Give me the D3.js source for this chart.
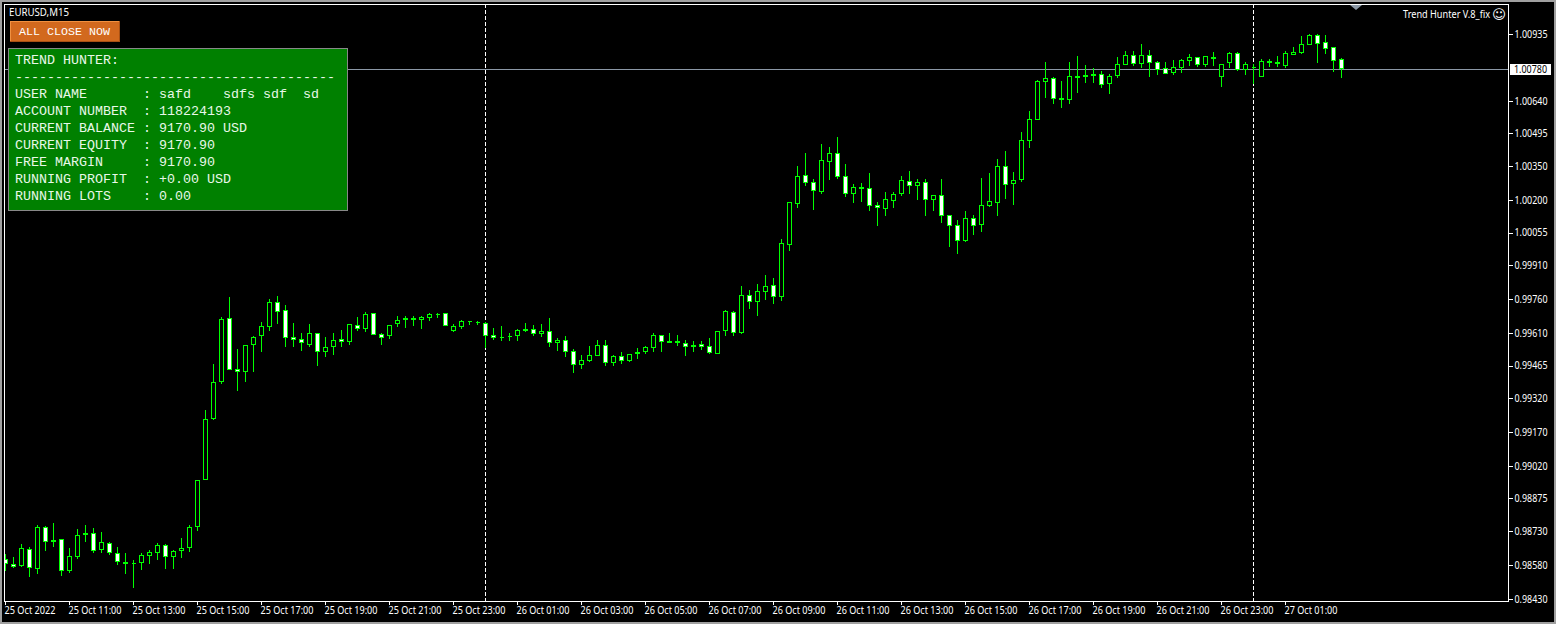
<!DOCTYPE html>
<html><head><meta charset="utf-8">
<style>html,body{margin:0;padding:0;background:#a0a0a0;overflow:hidden}svg{display:block}text{white-space:pre}</style>
<script src="https://cdn.jsdelivr.net/npm/d3@7"></script>
</head><body><svg id="c" width="1556" height="624"></svg>
<script>
const opens=[0.98605,0.98582,0.98577,0.98652,0.98563,0.98747,0.98689,0.98693,0.98551,0.98614,
0.98720,0.98720,0.98645,0.98676,0.98631,0.98591,0.98588,0.98587,0.98621,0.98634,
0.98667,0.98614,0.98640,0.98653,0.98747,0.98959,0.99228,0.99394,0.99675,0.99449,
0.99438,0.99554,0.99594,0.99634,0.99746,0.99710,0.99591,0.99582,0.99558,0.99608,
0.99527,0.99549,0.99582,0.99571,0.99644,0.99625,0.99697,0.99604,0.99594,0.99647,
0.99665,0.99675,0.99665,0.99678,0.99694,0.99697,0.99620,0.99634,0.99662,0.99657,
0.99653,0.99599,0.99591,0.99597,0.99594,0.99616,0.99626,0.99607,0.99617,0.99567,
0.99577,0.99528,0.99469,0.99486,0.99505,0.99555,0.99474,0.99506,0.99487,0.99514,
0.99523,0.99543,0.99599,0.99574,0.99573,0.99564,0.99545,0.99560,0.99551,0.99518,
0.99620,0.99702,0.99611,0.99777,0.99749,0.99793,0.99821,0.99767,1.00001,1.00183,
1.00309,1.00278,1.00236,1.00369,1.00406,1.00304,1.00228,1.00257,1.00251,1.00176,
1.00161,1.00196,1.00228,1.00282,1.00263,1.00278,1.00201,1.00220,1.00131,1.00087,
1.00019,1.00118,1.00090,1.00174,1.00188,1.00349,1.00272,1.00290,1.00463,1.00554,
1.00725,1.00739,1.00651,1.00645,1.00748,1.00753,1.00757,1.00757,1.00714,1.00751,
1.00800,1.00841,1.00804,1.00841,1.00810,1.00784,1.00764,1.00787,1.00818,1.00833,
1.00800,1.00833,1.00747,1.00809,1.00850,1.00775,1.00788,1.00747,1.00815,1.00810,
1.00796,1.00844,1.00853,1.00889,1.00930,1.00899,1.00877,1.00824];
const highs=[0.98628,0.98614,0.98673,0.98658,0.98757,0.98753,0.98764,0.98693,0.98653,0.98738,
0.98757,0.98742,0.98726,0.98682,0.98658,0.98631,0.98602,0.98631,0.98646,0.98676,
0.98673,0.98646,0.98698,0.98757,0.98955,0.99268,0.99472,0.99681,0.99768,0.99539,
0.99555,0.99597,0.99659,0.99761,0.99774,0.99734,0.99654,0.99610,0.99650,0.99608,
0.99592,0.99610,0.99623,0.99648,0.99681,0.99703,0.99697,0.99608,0.99644,0.99685,
0.99685,0.99685,0.99685,0.99699,0.99699,0.99697,0.99650,0.99668,0.99662,0.99663,
0.99659,0.99632,0.99641,0.99610,0.99628,0.99654,0.99645,0.99650,0.99676,0.99588,
0.99597,0.99539,0.99512,0.99552,0.99579,0.99579,0.99512,0.99526,0.99515,0.99543,
0.99552,0.99610,0.99599,0.99610,0.99601,0.99579,0.99574,0.99574,0.99588,0.99617,
0.99712,0.99707,0.99818,0.99801,0.99827,0.99867,0.99854,1.00026,1.00189,1.00350,
1.00408,1.00291,1.00448,1.00433,1.00479,1.00359,1.00270,1.00275,1.00319,1.00191,
1.00235,1.00235,1.00306,1.00328,1.00293,1.00293,1.00220,1.00293,1.00131,1.00111,
1.00151,1.00133,1.00297,1.00319,1.00381,1.00417,1.00324,1.00501,1.00594,1.00732,
1.00812,1.00745,1.00728,1.00812,1.00838,1.00799,1.00785,1.00772,1.00759,1.00834,
1.00861,1.00861,1.00892,1.00865,1.00816,1.00812,1.00821,1.00825,1.00847,1.00833,
1.00837,1.00856,1.00801,1.00856,1.00856,1.00812,1.00801,1.00825,1.00824,1.00838,
1.00861,1.00878,1.00927,1.00936,1.00936,1.00932,1.00877,1.00830];
const lows=[0.98554,0.98568,0.98572,0.98528,0.98540,0.98643,0.98661,0.98532,0.98545,0.98605,
0.98683,0.98634,0.98634,0.98625,0.98581,0.98541,0.98479,0.98557,0.98584,0.98602,
0.98563,0.98563,0.98611,0.98639,0.98730,0.98959,0.99224,0.99384,0.99443,0.99352,
0.99394,0.99434,0.99526,0.99619,0.99650,0.99548,0.99548,0.99530,0.99548,0.99463,
0.99503,0.99512,0.99548,0.99557,0.99619,0.99614,0.99602,0.99557,0.99583,0.99636,
0.99632,0.99641,0.99628,0.99663,0.99676,0.99642,0.99614,0.99628,0.99645,0.99645,
0.99542,0.99579,0.99574,0.99574,0.99574,0.99614,0.99597,0.99592,0.99548,0.99530,
0.99503,0.99432,0.99450,0.99481,0.99505,0.99463,0.99463,0.99472,0.99481,0.99494,
0.99517,0.99526,0.99526,0.99567,0.99552,0.99508,0.99526,0.99534,0.99517,0.99518,
0.99597,0.99597,0.99605,0.99716,0.99685,0.99756,0.99739,0.99752,0.99973,1.00164,
1.00262,1.00155,1.00226,1.00288,1.00294,1.00213,1.00186,1.00191,1.00151,1.00084,
1.00128,1.00164,1.00217,1.00226,1.00199,1.00128,1.00151,1.00097,0.99991,0.99960,
1.00013,1.00044,1.00057,1.00168,1.00128,1.00204,1.00177,1.00279,1.00430,1.00554,
1.00652,1.00625,1.00608,1.00625,1.00674,1.00719,1.00719,1.00696,1.00670,1.00741,
1.00800,1.00794,1.00785,1.00745,1.00754,1.00759,1.00754,1.00763,1.00794,1.00790,
1.00790,1.00794,1.00701,1.00785,1.00772,1.00754,1.00714,1.00747,1.00790,1.00790,
1.00785,1.00844,1.00847,1.00889,1.00807,1.00847,1.00767,1.00741];
const closes=[0.98582,0.98572,0.98653,0.98565,0.98747,0.98680,0.98683,0.98551,0.98618,0.98711,
0.98714,0.98640,0.98680,0.98631,0.98591,0.98585,0.98588,0.98622,0.98636,0.98667,
0.98614,0.98640,0.98653,0.98747,0.98955,0.99227,0.99391,0.99670,0.99447,0.99438,
0.99555,0.99591,0.99639,0.99746,0.99704,0.99585,0.99580,0.99563,0.99608,0.99527,
0.99546,0.99577,0.99571,0.99648,0.99625,0.99693,0.99602,0.99589,0.99644,0.99666,
0.99675,0.99665,0.99679,0.99693,0.99694,0.99642,0.99639,0.99662,0.99656,0.99653,
0.99598,0.99589,0.99585,0.99591,0.99623,0.99626,0.99607,0.99617,0.99567,0.99577,
0.99523,0.99469,0.99489,0.99511,0.99555,0.99474,0.99506,0.99487,0.99515,0.99524,
0.99546,0.99599,0.99571,0.99567,0.99563,0.99545,0.99555,0.99549,0.99520,0.99617,
0.99706,0.99611,0.99777,0.99749,0.99795,0.99817,0.99767,1.00007,1.00189,1.00304,
1.00276,1.00241,1.00375,1.00406,1.00303,1.00228,1.00256,1.00250,1.00174,1.00165,
1.00202,1.00225,1.00287,1.00263,1.00278,1.00201,1.00220,1.00130,1.00086,1.00019,
1.00118,1.00086,1.00176,1.00193,1.00349,1.00267,1.00287,1.00464,1.00557,1.00726,
1.00739,1.00649,1.00645,1.00748,1.00741,1.00745,1.00750,1.00711,1.00748,1.00801,
1.00841,1.00804,1.00841,1.00809,1.00778,1.00760,1.00788,1.00819,1.00833,1.00800,
1.00837,1.00825,1.00801,1.00850,1.00775,1.00801,1.00788,1.00815,1.00809,1.00801,
1.00850,1.00855,1.00890,1.00930,1.00893,1.00871,1.00818,1.00780];

const priceTicks=[1.00935,1.00640,1.00495,1.00350,1.00200,1.00055,0.99910,0.99760,0.99610,0.99465,0.99320,0.99170,0.99020,0.98875,0.98730,0.98580,0.98430];
const currentPrice=1.00780;
const timeTickIndex=[0,8,16,24,32,40,48,56,64,72,80,88,96,104,112,120,128,136,144,152,160];
const timeTickLabels=["25 Oct 2022","25 Oct 11:00","25 Oct 13:00","25 Oct 15:00","25 Oct 17:00","25 Oct 19:00","25 Oct 21:00","25 Oct 23:00","26 Oct 01:00","26 Oct 03:00","26 Oct 05:00","26 Oct 07:00","26 Oct 09:00","26 Oct 11:00","26 Oct 13:00","26 Oct 15:00","26 Oct 17:00","26 Oct 19:00","26 Oct 21:00","26 Oct 23:00","27 Oct 01:00"];
const daySeparators=[60,156];
const panelLines=["TREND HUNTER:","----------------------------------------","USER NAME       : safd    sdfs sdf  sd","ACCOUNT NUMBER  : 118224193","CURRENT BALANCE : 9170.90 USD","CURRENT EQUITY  : 9170.90","FREE MARGIN     : 9170.90","RUNNING PROFIT  : +0.00 USD","RUNNING LOTS    : 0.00"];

const svg=d3.select("#c");
const UI="'Noto Sans','DejaVu Sans',sans-serif";
const MONO="'Liberation Mono',monospace";
const L=4,T=4,R=1508,B=601;
const x=d3.scaleLinear().domain([0,167]).range([5,1341]);
const y=d3.scaleLinear().domain([0.98430,1.00935]).range([598.7,34.3]);
const UP="#00ff00";

svg.append("rect").attr("x",2).attr("y",2).attr("width",1552).attr("height",620).attr("fill","#000");

const plot=svg.append("g").attr("shape-rendering","crispEdges");
svg.append("clipPath").attr("id","pl").append("rect").attr("x",L+1).attr("y",T+1).attr("width",R-L-1).attr("height",B-T-1);
plot.attr("clip-path","url(#pl)");

plot.append("line").attr("x1",L).attr("x2",R).attr("y1",Math.floor(y(currentPrice))+.5).attr("y2",Math.floor(y(currentPrice))+.5).attr("stroke","#8b98a6");
plot.selectAll(".sep").data(daySeparators).join("line").attr("class","sep")
  .attr("x1",d=>x(d)+.5).attr("x2",d=>x(d)+.5).attr("y1",T).attr("y2",B)
  .attr("stroke","#fff").attr("stroke-dasharray","4,2");

const candles=opens.map((o,i)=>({i,o,h:highs[i],l:lows[i],c:closes[i]}));
const g=plot.selectAll(".cd").data(candles).join("g").attr("class","cd");
g.append("line").attr("x1",d=>x(d.i)+.5).attr("x2",d=>x(d.i)+.5)
  .attr("y1",d=>Math.round(y(d.h))).attr("y2",d=>Math.round(y(d.l))).attr("stroke",UP);
g.append("path")
  .attr("d",d=>{
    const t=Math.round(y(Math.max(d.o,d.c))),b=Math.round(y(Math.min(d.o,d.c)));
    const h=Math.max(0,b-t-1),l=x(d.i)-1.5,r=x(d.i)+2.5;
    return `M${l},${t+.5}H${r}V${t+.5+h}H${l}Z`;
  })
  .attr("fill",d=>d.c>=d.o?"#000":"#fff").attr("stroke",UP).attr("stroke-linecap","square");

// frame
svg.append("path").attr("d",`M${L+.5},${B+.5}V${T+.5}H${R+.5}V${B+.5}H${L+.5}`).attr("fill","none").attr("stroke","#fff").attr("shape-rendering","crispEdges");

// axes
const ax=svg.append("g").attr("transform",`translate(${R+1},0)`)
  .call(d3.axisRight(y).tickValues(priceTicks).tickFormat(d3.format(".5f")).tickSize(4).tickPadding(2));
ax.select(".domain").remove();
ax.selectAll("line").attr("stroke","#fff").attr("shape-rendering","crispEdges");
ax.selectAll("text").attr("fill","#fff").attr("font-family",UI).attr("font-size",10).attr("x",5.5).attr("dy","0.33em")
  .attr("textLength",33).attr("lengthAdjust","spacingAndGlyphs");

const bx=svg.append("g").attr("transform",`translate(0,${B+1})`)
  .call(d3.axisBottom(x).tickValues(timeTickIndex).tickFormat((d,i)=>timeTickLabels[i]).tickSize(3));
bx.select(".domain").remove();
bx.selectAll("line").attr("stroke","#fff").attr("shape-rendering","crispEdges");
bx.selectAll("text").attr("fill","#fff").attr("font-family",UI).attr("font-size",10).attr("text-anchor","start").attr("x",-1).attr("y",5).attr("dy","0.71em")
  .attr("textLength",(d,i)=>i===0?51:53).attr("lengthAdjust","spacingAndGlyphs");

// current price tag
const py=y(currentPrice);
svg.append("rect").attr("x",1510).attr("y",Math.round(py)-5).attr("width",41).attr("height",11).attr("fill","#fff");
svg.append("text").attr("x",1514).attr("y",py).attr("dy","0.36em").attr("fill","#000").attr("font-family",UI).attr("font-size",10)
  .attr("textLength",33).attr("lengthAdjust","spacingAndGlyphs").text(d3.format(".5f")(currentPrice));

// title + labels
svg.append("text").attr("x",9).attr("y",16).attr("fill","#fff").attr("font-family",UI).attr("font-size",10).attr("textLength",60).attr("lengthAdjust","spacingAndGlyphs").text("EURUSD,M15");
svg.append("text").attr("x",1403).attr("y",18).attr("fill","#fff").attr("font-family",UI).attr("font-size",10).attr("textLength",87).attr("lengthAdjust","spacingAndGlyphs").text("Trend Hunter V.8_fix");
svg.append("text").attr("x",1492).attr("y",19).attr("fill","#fff").attr("font-family","'DejaVu Sans'").attr("font-size",13.5).text("☺");
svg.append("path").attr("d","M1350,5H1362L1356,10Z").attr("fill","#8b98a6");

// button
svg.append("rect").attr("x",10).attr("y",21).attr("width",110).attr("height",21).attr("fill","#d2691e");
svg.append("path").attr("d","M10.5,42V21.5H120").attr("fill","none").attr("stroke","#f09040").attr("shape-rendering","crispEdges");
svg.append("path").attr("d","M10,41.5H119.5V21").attr("fill","none").attr("stroke","#a85014").attr("shape-rendering","crispEdges");
svg.append("text").attr("x",19).attr("y",35).attr("fill","#fff").attr("font-family",MONO).attr("font-size",11.67).text("ALL CLOSE NOW");

// panel
svg.append("rect").attr("x",8.5).attr("y",48.5).attr("width",339).attr("height",162).attr("fill","#008000").attr("stroke","#888").attr("shape-rendering","crispEdges");
svg.selectAll(".pt").data(panelLines).join("text").attr("class","pt")
  .attr("x",15).attr("y",(d,i)=>64+i*17).attr("fill","#e8f8e8")
  .attr("font-family",MONO).attr("font-size",13.33).text(d=>d);
</script></body></html>
